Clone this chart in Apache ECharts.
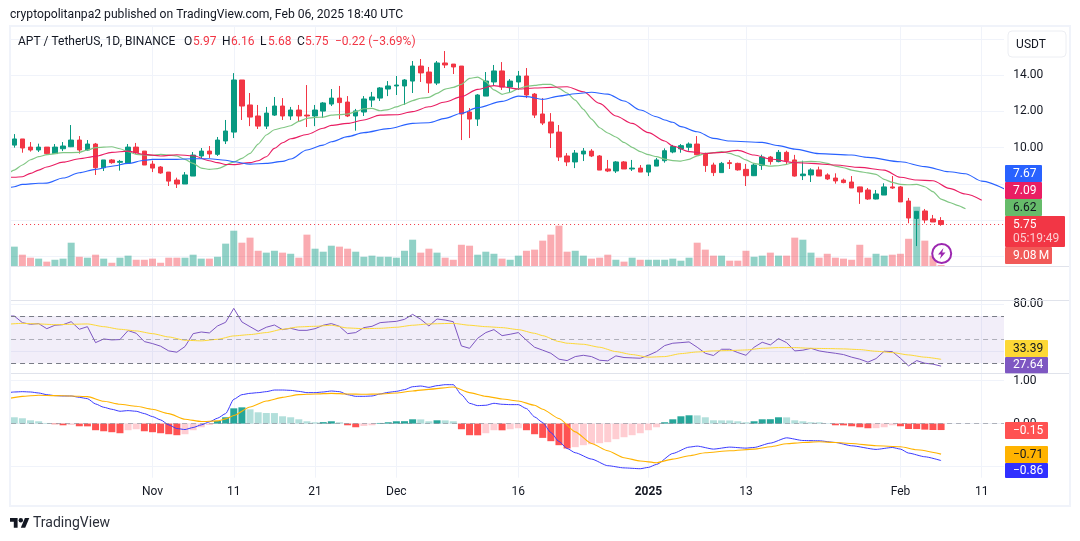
<!DOCTYPE html>
<html><head><meta charset="utf-8">
<style>html,body{margin:0;padding:0;background:#fff}#c{width:1080px;height:541px}</style>
<script src="https://cdn.jsdelivr.net/npm/echarts@6/dist/echarts.min.js"></script>
</head><body><div id="c"></div>
<script>
// bars: [open, close, low, high], first bar is 15 Oct 2024, last 6 Feb 2025
const bars = [
[10.14,10.48,10.00,10.75],[10.48,9.98,9.72,10.48],[10.03,9.87,9.78,10.31],[9.87,10.03,9.76,10.22],[10.03,9.67,9.59,10.03],
[9.67,10.03,9.65,10.20],[9.94,10.09,9.81,10.31],[10.05,10.42,10.03,11.25],[10.42,9.87,9.67,10.64],[9.87,10.20,9.83,10.42],
[10.20,8.89,8.49,10.26],[8.89,9.32,8.71,9.32],[9.32,9.17,9.11,9.37],[9.19,9.24,8.73,9.32],[9.15,10.03,9.15,10.20],
[10.03,9.72,9.65,10.26],[9.81,9.04,9.04,9.81],[9.09,8.87,8.65,9.28],[8.93,8.60,8.56,8.98],[8.65,8.15,7.88,8.65],
[8.21,7.99,7.77,8.34],[7.99,8.49,7.99,8.65],[8.43,9.59,8.43,9.76],[9.54,9.81,9.41,9.98],[9.81,9.65,9.43,10.09],
[9.63,10.42,9.54,10.59],[10.37,10.92,10.20,11.53],[10.86,13.74,10.53,14.12],[13.74,12.30,11.53,13.74],[12.36,11.69,11.19,13.02],
[11.75,11.19,11.03,12.36],[11.19,11.91,11.03,12.25],[11.80,12.30,11.75,12.80],[12.30,11.75,11.53,12.74],[11.75,12.08,11.53,12.25],
[12.08,11.75,11.42,12.36],[11.80,11.75,11.14,13.46],[11.75,12.08,11.19,12.36],[12.02,12.47,11.64,12.52],[12.41,12.74,12.30,13.24],
[12.74,12.49,11.58,13.41],[12.52,11.75,11.69,12.85],[11.75,12.03,10.94,12.14],[11.97,12.69,11.75,12.85],[12.63,12.80,12.25,13.08],
[12.74,13.30,12.58,13.35],[13.24,13.41,12.85,13.68],[13.41,13.46,12.91,13.96],[13.41,13.74,12.36,13.79],[13.68,14.51,13.02,14.79],
[14.51,14.13,13.63,14.90],[14.18,13.57,13.02,14.46],[13.57,14.68,13.46,14.79],[14.68,14.57,14.40,15.34],[14.62,14.46,14.07,14.62],
[14.51,11.86,10.42,14.51],[11.97,11.58,10.53,12.19],[11.58,12.91,11.20,12.96],[12.85,13.68,12.85,14.18],[13.63,14.24,13.41,14.57],
[14.24,13.35,13.19,14.73],[13.35,13.68,13.08,13.79],[13.63,13.96,13.19,14.24],[13.96,12.91,12.74,14.40],[12.96,11.80,11.64,13.02],
[11.86,11.36,11.25,12.74],[11.42,10.81,9.98,11.91],[10.86,9.48,9.26,11.25],[9.54,9.21,8.98,9.70],[9.21,9.70,8.87,9.87],
[9.65,9.81,9.26,9.98],[9.81,9.54,9.48,9.92],[9.54,8.76,8.76,9.59],[8.82,8.71,8.65,9.32],[8.71,9.21,8.60,9.26],
[9.21,8.82,8.82,9.26],[8.82,8.87,8.71,9.32],[8.87,8.65,8.65,9.04],[8.65,9.04,8.43,9.04],[8.98,9.32,8.98,9.43],
[9.28,9.83,9.17,9.96],[9.76,10.06,9.69,10.15],[9.93,10.11,9.72,10.20],[10.02,10.20,9.83,10.29],[10.20,9.61,9.58,10.64],
[9.67,9.01,8.66,9.72],[9.04,8.62,8.43,9.17],[8.62,9.13,8.62,9.21],[9.17,9.12,8.82,9.32],[9.13,8.77,8.73,9.17],
[8.80,8.45,7.88,9.10],[8.45,9.04,8.43,9.13],[9.01,9.48,8.77,9.61],[9.48,9.23,9.06,9.54],[9.23,9.74,9.19,9.87],
[9.74,9.28,9.04,9.83],[9.32,8.43,8.40,9.60],[8.45,8.54,8.21,9.28],[8.49,8.77,8.10,8.86],[8.77,8.43,8.43,8.95],
[8.49,8.27,8.21,8.58],[8.32,8.16,8.01,8.58],[8.21,8.07,8.03,8.29],[8.10,7.77,7.77,8.43],[7.83,7.55,6.89,7.84],
[7.66,7.16,7.11,7.77],[7.16,7.44,7.14,7.66],[7.38,7.83,7.38,8.03],[7.83,7.77,7.72,8.43],[7.83,7.00,7.00,7.88],
[7.05,6.11,5.82,7.22],[6.09,6.48,4.56,6.48],[6.50,6.00,5.82,6.61],[6.06,5.89,5.89,6.28],[5.97,5.75,5.68,6.16]
];
// volume per bar, in millions
const volumes = [107,64,48,43,27,37,43,128,53,48,64,43,21,48,59,37,37,43,21,48,48,48,64,43,43,53,123,192,128,155,85,75,85,75,69,48,171,96,80,112,
107,96,80,53,59,53,53,48,85,144,75,96,75,48,37,117,112,64,80,69,43,37,59,85,91,139,171,219,80,85,59,43,48,64,37,27,48,37,37,37,37,
43,32,48,128,91,59,59,32,32,85,53,59,75,59,59,155,144,75,48,69,48,43,37,117,48,69,59,64,69,149,320,139,59,9.08];
// moving averages: [bar number, value]; bar number -1 is the partly hidden bar before the first
const maFast = [[-1,8.49],[0,8.76],[1,9.04],[2,9.33],[3,9.50],[4,9.61],[6,9.72],[8,9.74],[9,9.87],[10,10.0],[12,10.05],[13,9.94],[14,9.78],[15,9.63],[17,9.57],[18,9.63],[20,9.54],[21,9.35],[22,9.13],[23,8.87],[24,8.80],[25,8.84],[27,9.2],[28,9.41],[29,9.68],[30,10.2],[31,10.70],[32,10.99],[33,11.1],[34,11.21],[35,11.45],[36,11.62],[37,11.67],[38,11.69],[39,11.80],[40,11.82],[41,11.86],[42,11.99],[43,12.15],[44,12.17],[45,12.04],[46,12.10],[47,12.25],[48,12.41],[49,12.60],[50,12.73],[51,12.78],[52,13.0],[53,13.24],[54,13.33],[55,13.50],[56,13.83],[57,13.90],[58,13.65],[59,13.19],[60,12.95],[61,13.06],[62,13.26],[63,13.39],[64,13.44],[65,13.50],[66,13.50],[67,13.28],[68,13.02],[69,12.63],[70,12.12],[71,11.58],[72,11.10],[73,10.81],[74,10.59],[75,10.29],[76,10.02],[77,9.78],[78,9.61],[79,9.50],[80,9.37],[81,9.28],[82,9.26],[83,9.35],[84,9.55],[85,9.68],[86,9.72],[87,9.78],[88,9.68],[89,9.54],[90,9.32],[91,9.13],[92,9.04],[93,8.98],[94,9.0],[95,9.08],[96,9.19],[97,9.22],[98,9.24],[99,9.22],[100,9.13],[101,8.98],[102,8.89],[103,8.76],[104,8.67],[105,8.61],[106,8.52],[107,8.25],[108,8.08],[109,7.97],[110,7.95],[111,7.97],[112,7.84],[113,7.57],[114,7.16],[115,6.98],[116,6.81],[117,6.62]];
const maMid = [[-1,8.36],[0,8.36],[1,8.39],[2,8.58],[3,8.76],[4,8.93],[6,9.20],[8,9.39],[10,9.52],[12,9.74],[14,9.81],[16,9.63],[18,9.54],[20,9.61],[22,9.55],[24,9.28],[25,9.17],[26,9.07],[27,9.06],[29,9.17],[30,9.28],[31,9.50],[32,9.96],[33,10.27],[34,10.49],[36,10.73],[38,11.07],[39,11.23],[41,11.34],[43,11.53],[45,11.80],[47,11.82],[49,11.99],[51,12.26],[53,12.52],[55,12.82],[57,13.22],[59,13.43],[60,13.37],[62,13.24],[64,13.30],[66,13.33],[68,13.37],[70,13.09],[72,12.45],[74,11.75],[76,11.34],[78,10.83],[80,10.37],[81,10.09],[83,9.78],[85,9.68],[87,9.74],[89,9.85],[91,9.59],[93,9.37],[96,9.17],[98,9.13],[101,9.04],[104,8.91],[107,8.76],[109,8.36],[111,8.21],[113,8.17],[115,7.75],[117,7.44],[119,7.09]];
const maSlow = [[-1,7.71],[0,7.84],[1,7.97],[3,8.03],[4,8.04],[6,8.32],[8,8.61],[10,8.80],[12,8.97],[14,9.13],[16,9.30],[17,9.35],[20,9.35],[22,9.39],[24,9.39],[26,9.30],[27,9.22],[29,9.09],[31,9.13],[33,9.24],[34,9.37],[36,9.87],[38,10.14],[39,10.33],[41,10.61],[43,10.83],[46,11.05],[49,11.34],[51,11.38],[53,11.62],[55,11.90],[57,12.21],[60,12.56],[62,12.85],[63,12.82],[65,12.67],[67,12.85],[69,12.98],[71,13.06],[73,12.96],[75,12.58],[77,12.08],[79,11.71],[80,11.53],[81,11.40],[82,11.16],[84,10.88],[86,10.51],[88,10.37],[92,10.29],[94,10.11],[96,9.92],[99,9.67],[103,9.59],[105,9.46],[109,9.22],[112,8.95],[115,8.67],[117,8.56],[119,8.15],[122,7.67]];
// RSI per bar from bar -1
const rsiLine = [70.0,70.0,64.4,63.0,63.6,59.3,62.2,62.7,65.2,58.8,61.0,47.5,50.6,49.8,50.1,57.7,55.4,48.4,46.7,44.5,40.5,39.4,44.2,55.1,56.5,55.7,61.6,64.7,76.5,65.0,61.0,57.1,60.5,62.4,58.5,59.6,57.9,57.9,59.3,62.2,63.6,61.3,55.1,56.0,60.2,61.3,64.4,65.0,65.5,67.2,71.4,67.2,61.6,67.5,66.6,65.2,44.7,42.7,51.2,56.0,58.5,53.4,54.6,56.0,49.5,43.6,41.1,38.5,33.5,32.3,35.7,36.8,35.7,32.6,32.1,36.3,34.9,34.6,34.3,36.8,39.9,45.0,47.0,47.5,48.1,43.6,38.5,36.6,41.9,41.9,39.1,36.8,43.6,47.8,45.6,50.9,47.5,40.5,41.1,42.7,40.5,39.4,38.5,37.4,35.2,33.5,31.0,34.0,40.2,39.9,34.3,27.8,32.3,30.1,29.3,27.64];
const rsiAvg = [[-1,63.0],[1,63.8],[3,63.3],[5,62.7],[7,63.0],[9,63.3],[11,61.0],[13,58.8],[15,57.4],[17,55.1],[19,52.3],[21,49.5],[23,49.0],[25,50.3],[27,53.2],[29,54.3],[31,56.0],[33,58.8],[35,60.8],[37,61.3],[39,62.2],[41,59.9],[43,59.3],[45,59.6],[47,60.5],[49,62.2],[51,63.3],[54,63.8],[56,62.2],[58,61.0],[60,60.2],[62,58.5],[64,55.4],[65,53.4],[67,48.4],[68,47.0],[70,46.1],[72,43.6],[74,39.9],[76,37.4],[78,35.2],[80,35.7],[82,38.2],[84,39.6],[86,40.5],[88,40.8],[90,41.3],[92,42.7],[94,43.3],[96,43.3],[98,42.7],[100,42.5],[102,42.2],[104,41.6],[106,40.2],[108,39.1],[110,37.1],[112,35.2],[114,33.39]];
// MACD: [bar number, value] and histogram per bar
const macdLine = [[-1,.712],[0,.735],[1,.743],[2,.735],[3,.712],[4,.673],[5,.65],[6,.642],[7,.642],[8,.611],[9,.58],[10,.457],[11,.38],[12,.333],[13,.287],[14,.302],[15,.287],[16,.233],[17,.163],[18,.086],[19,-.03],[20,-.115],[21,-.138],[22,-.091],[23,-.03],[24,.04],[25,.125],[26,.233],[27,.565],[28,.673],[29,.704],[30,.72],[31,.743],[32,.781],[33,.781],[34,.773],[35,.75],[36,.72],[37,.72],[38,.735],[39,.758],[40,.743],[41,.673],[42,.634],[43,.634],[44,.642],[45,.689],[46,.727],[47,.75],[48,.789],[49,.858],[50,.874],[51,.843],[52,.882],[53,.905],[54,.905],[55,.673],[56,.472],[57,.418],[58,.426],[59,.472],[60,.449],[61,.441],[62,.441],[63,.349],[64,.156],[65,.024],[66,-.207],[67,-.416],[68,-.578],[69,-.678],[71,-.825],[73,-.979],[75,-1.03],[77,-1.049],[78,-1.018],[79,-.949],[81,-.694],[83,-.547],[84,-.524],[86,-.593],[88,-.547],[90,-.57],[91,-.555],[93,-.454],[95,-.331],[97,-.393],[99,-.40],[101,-.439],[103,-.516],[106,-.60],[108,-.555],[109,-.593],[110,-.686],[112,-.771],[114,-.86]];
const macdSignal = [[-1,.573],[1,.634],[3,.658],[5,.65],[7,.642],[9,.627],[11,.519],[13,.449],[15,.403],[17,.333],[19,.233],[21,.102],[23,.048],[25,.063],[26,.109],[27,.187],[29,.387],[31,.526],[33,.611],[35,.673],[37,.689],[39,.704],[41,.689],[43,.681],[45,.689],[47,.712],[49,.758],[51,.797],[54,.851],[56,.72],[58,.634],[60,.573],[62,.526],[64,.426],[65,.333],[67,.117],[69,-.192],[71,-.462],[73,-.632],[75,-.794],[77,-.871],[79,-.91],[81,-.825],[83,-.748],[85,-.678],[88,-.632],[91,-.593],[93,-.539],[95,-.47],[97,-.439],[99,-.423],[101,-.439],[103,-.462],[106,-.516],[109,-.539],[111,-.609],[114,-.71]];
const macdHist = [.147,.124,.077,.054,.015,-.015,-.039,-.031,-.062,-.064,-.154,-.178,-.2,-.224,-.154,-.131,-.178,-.2,-.224,-.247,-.27,-.247,-.154,-.085,-.031,.062,.147,.355,.378,.332,.263,.247,.245,.17,.147,.1,.054,.031,.034,.054,.031,-.039,-.085,-.054,-.039,.015,.031,.054,.056,.1,.098,.054,.077,.075,.054,-.131,-.27,-.272,-.224,-.154,-.156,-.131,-.108,-.154,-.247,-.332,-.409,-.502,-.579,-.548,-.502,-.479,-.456,-.432,-.363,-.317,-.27,-.224,-.154,-.085,.031,.1,.17,.193,.191,.147,.077,.075,.073,.054,.031,.054,.1,.102,.147,.145,.077,.054,.031,.029,.008,-.039,-.041,-.062,-.085,-.108,-.106,-.085,-.039,-.062,-.125,-.127,-.14,-.149,-.15];
const tickBars = [17,27,37,47,62,78,90,109,119];
const tickLabels = ['Nov','11','21','Dec','16','2025','13','Feb','11'];

const UP='#089981', DOWN='#f23645', FONT='Roboto, sans-serif', TEXT='#131722', GRID='#f0f3fa', SEP='#e0e3eb';
const SLOTS=124, STEP=8.13, LEFT=2.07;
const cats=[]; for(let k=0;k<SLOTS;k++){const d=new Date(Date.UTC(2024,9,14+k));cats.push(d.toISOString().slice(0,10));}
const tickAt=new Map(tickBars.map((b,k)=>[b+1,tickLabels[k]]));
const shift=a=>a.map(([i,v])=>[i+1,v]);
const pad=a=>[null].concat(a);
const W=SLOTS*STEP;
const grid=(top,height)=>({left:LEFT,top,width:W,height,containLabel:false});
const hiddenX=g=>({type:'category',data:cats,gridIndex:g,show:false,boundaryGap:true});
const mlBase={silent:true,symbol:'none',label:{show:false},animation:false};
const fmt=v=>v.toFixed(2).replace('-','\u2212');
const yLabel=Object.assign({},{color:TEXT,fontFamily:FONT,fontSize:12,margin:3,formatter:fmt});
const line=(name,x,y,data,color,w,smooth,extra)=>Object.assign({type:'line',name,xAxisIndex:x,yAxisIndex:y,data,showSymbol:false,symbol:'none',smooth,smoothMonotone:'x',lineStyle:{color,width:w},itemStyle:{color},silent:true,z:4},extra||{});

const histColor=(v,p)=>v>=0?(v>p?'#26a69a':'#b2dfdb'):(v<p?'#ff5252':'#ffcdd2');

const tags=[
 ['7.67',165,182,1042,'#2962ff','#fff'],['7.09',182,199,1042,'#e91e63','#fff'],['6.62',199,216,1042,'#66bb6a',TEXT],
 ['',216,247,1065,'#f23645','#fff'],['9.08\u2009M',247,264,1052,'#f15a58','#fff'],
 ['33.39',340,357,1048,'#fdd835',TEXT],['27.64',357,373.3,1048,'#7e57c2','#fff'],
 ['\u22120.15',422,439,1048,'#ff5252','#fff'],['\u22120.71',446,463,1048,'#ffb300',TEXT],['\u22120.86',463,478,1048,'#3030ff','#fff']
];
const gfx=[];
// masks that trim the drawing area to the plot edges
gfx.push({type:'rect',z:90,silent:true,shape:{x:0,y:0,width:9,height:541},style:{fill:'#fff'}});
gfx.push({type:'rect',z:90,silent:true,shape:{x:1004,y:27,width:9,height:450},style:{fill:'#fff'}});
// frame and pane separators
gfx.push({type:'rect',z:95,silent:true,shape:{x:10,y:26,width:1060,height:480},style:{fill:'none',stroke:GRID,lineWidth:2}});
[266.5,300.5,373.5].forEach(y=>gfx.push({type:'line',z:95,silent:true,shape:{x1:11,y1:y,x2:1069,y2:y},style:{stroke:SEP,lineWidth:1}}));
tags.forEach(t=>{
 gfx.push({type:'rect',z:100,silent:true,shape:{x:1005,y:t[1],width:t[3]-1005,height:t[2]-t[1],r:1},style:{fill:t[4]}});
 if(t[0])gfx.push({type:'text',z:101,silent:true,x:1013,y:(t[1]+t[2])/2,style:{text:t[0],fill:t[5],font:'12px '+FONT,textVerticalAlign:'middle'}});
});
gfx.push({type:'text',z:101,silent:true,x:1013,y:224.5,style:{text:'5.75',fill:'#fff',font:'12px '+FONT,textVerticalAlign:'middle'}});
gfx.push({type:'text',z:101,silent:true,x:1013,y:239,style:{text:'05:19:49',fill:'rgba(255,255,255,.75)',font:'12px '+FONT,textVerticalAlign:'middle'}});
// bolt badge
gfx.push({type:'circle',z:96,silent:true,shape:{cx:941.7,cy:253.5,r:9.5},style:{fill:'#fff',stroke:'#9c27b0',lineWidth:2}});
gfx.push({type:'polygon',z:97,silent:true,shape:{points:[[943.5,248],[938,254.5],[941.2,254.5],[939.8,259],[945.5,252.5],[942.2,252.5]]},style:{fill:'#9c27b0'}});
// currency box
gfx.push({type:'rect',z:96,silent:true,shape:{x:1008,y:31,width:58,height:26,r:4},style:{fill:'#fff',stroke:'#eceef3',lineWidth:1}});
gfx.push({type:'text',z:97,silent:true,x:1031,y:45,style:{text:'USDT',fill:TEXT,font:'12px '+FONT,textAlign:'center',textVerticalAlign:'middle'}});
// titles
gfx.push({type:'text',z:97,silent:true,x:10,y:14.5,style:{text:'cryptopolitanpa2 published on TradingView.com, Feb 06, 2025 18:40 UTC',fill:TEXT,font:'12.15px '+FONT,textVerticalAlign:'middle'}});
const legendParts=[['APT / TetherUS, 1D, BINANCE',18,TEXT],['O',184,TEXT],['5.97',193,DOWN],['H',222,TEXT],['6.16',231,DOWN],['L',260,TEXT],['5.68',268,DOWN],['C',297,TEXT],['5.75',305,DOWN],['\u22120.22 (\u22123.69%)',335,DOWN]];
legendParts.forEach(p=>gfx.push({type:'text',z:97,silent:true,x:p[1],y:41.5,style:{text:p[0],fill:p[2],font:'12px '+FONT,textVerticalAlign:'middle'}}));
// footer logo
gfx.push({type:'polygon',z:97,silent:true,shape:{points:[[17.6,527.8],[13.8,527.8],[13.8,521.8],[10,521.8],[10,518],[17.6,518]]},style:{fill:TEXT}});
gfx.push({type:'polygon',z:97,silent:true,shape:{points:[[25.2,527.8],[20.8,527.8],[24.9,518],[29.3,518]]},style:{fill:TEXT}});
gfx.push({type:'circle',z:97,silent:true,shape:{cx:20.8,cy:520.2,r:2.2},style:{fill:TEXT}});
gfx.push({type:'text',z:97,silent:true,x:33,y:523,style:{text:'TradingView',fill:'#2a2e39',font:'14px '+FONT,textVerticalAlign:'middle'}});

const option={
 animation:false,backgroundColor:'#fff',graphic:{elements:gfx},
 grid:[grid(26,451.7),grid(39.1,217.1),grid(206.7,60),grid(304.2,94.6),grid(380.6,129)],
 xAxis:[
  {type:'category',data:cats,gridIndex:0,boundaryGap:true,axisLine:{show:false},axisTick:{show:false},
   axisLabel:{interval:i=>tickAt.has(i),margin:8,color:TEXT,fontFamily:FONT,fontSize:12,
     formatter:(v,i)=>tickAt.get(i)==='2025'?'{b|2025}':(tickAt.get(i)||''),rich:{b:{fontWeight:'bold',color:TEXT,fontFamily:FONT,fontSize:12}}},
   splitLine:{show:true,interval:i=>tickAt.has(i),alignWithLabel:true,lineStyle:{color:GRID,width:1}}},
  hiddenX(1),hiddenX(2),hiddenX(3),hiddenX(4)],
 yAxis:[
  {type:'value',gridIndex:0,show:false,min:0,max:1},
  {type:'value',gridIndex:1,position:'right',min:4,max:16,interval:2,axisLine:{show:false},axisTick:{show:false},axisLabel:Object.assign({},yLabel,{showMaxLabel:false}),splitLine:{lineStyle:{color:GRID,width:1}}},
  {type:'value',gridIndex:2,show:false,min:0,max:320,splitLine:{show:false}},
  {type:'value',gridIndex:3,position:'right',min:0,max:80,interval:40,axisLine:{show:false},axisTick:{show:false},axisLabel:Object.assign({},yLabel,{showMinLabel:false}),splitLine:{showMinLine:false,lineStyle:{color:GRID,width:1}}},
  {type:'value',gridIndex:4,position:'right',min:-2,max:1,interval:1,axisLine:{show:false},axisTick:{show:false},axisLabel:Object.assign({},yLabel,{showMinLabel:false}),splitLine:{showMinLine:false,lineStyle:{color:GRID,width:1}}}
 ],
 series:[
  {type:'bar',name:'Volume',xAxisIndex:2,yAxisIndex:2,barWidth:7,z:1,silent:true,
   data:pad(volumes.map((v,i)=>({value:v,itemStyle:{color:bars[i][1]>=bars[i][0]?'rgba(8,153,129,.45)':'rgba(242,54,69,.42)'}})))},
  {type:'candlestick',name:'APT',xAxisIndex:1,yAxisIndex:1,barWidth:5,z:3,silent:true,
   itemStyle:{color:UP,color0:DOWN,borderColor:UP,borderColor0:DOWN,borderWidth:1},
   data:[['-','-','-','-']].concat(bars),
   markLine:Object.assign({},mlBase,{lineStyle:{color:DOWN,type:[1,3],width:1},data:[{yAxis:5.75}]})},
  line('MA fast',1,1,shift(maFast),'#81c784',1.2,0.2),
  line('MA mid',1,1,shift(maMid),'#e91e63',1.1,0.3),
  line('MA slow',1,1,shift(maSlow),'#2962ff',1.1,0.3),
  line('RSI',3,3,rsiLine,'#7e57c2',1,false,{
   markArea:{silent:true,itemStyle:{color:'rgba(126,87,194,.1)'},data:[[{yAxis:30},{yAxis:70}]]},
   markLine:Object.assign({},mlBase,{data:[
     {yAxis:70,lineStyle:{color:'#787b86',type:[5,4],width:1}},
     {yAxis:50,lineStyle:{color:'rgba(120,123,134,.55)',type:[5,4],width:1}},
     {yAxis:30,lineStyle:{color:'#787b86',type:[5,4],width:1}}]})}),
  line('RSI avg',3,3,shift(rsiAvg),'#fdd835',1,0.2),
  {type:'bar',name:'Histogram',xAxisIndex:4,yAxisIndex:4,barWidth:7,z:2,silent:true,
   data:pad(macdHist.map((v,i)=>({value:v,itemStyle:{color:histColor(v,i?macdHist[i-1]:.2)}}))),
   markLine:Object.assign({},mlBase,{data:[{yAxis:0,lineStyle:{color:'rgba(120,123,134,.55)',type:[5,4],width:1}}]})},
  line('MACD',4,4,shift(macdLine),'#3a3aff',1,0.2),
  line('Signal',4,4,shift(macdSignal),'#ffb300',1.1,0.2)
 ]
};
const chart=echarts.init(document.getElementById('c'),null,{renderer:'canvas'});
chart.setOption(option);
</script></body></html>
